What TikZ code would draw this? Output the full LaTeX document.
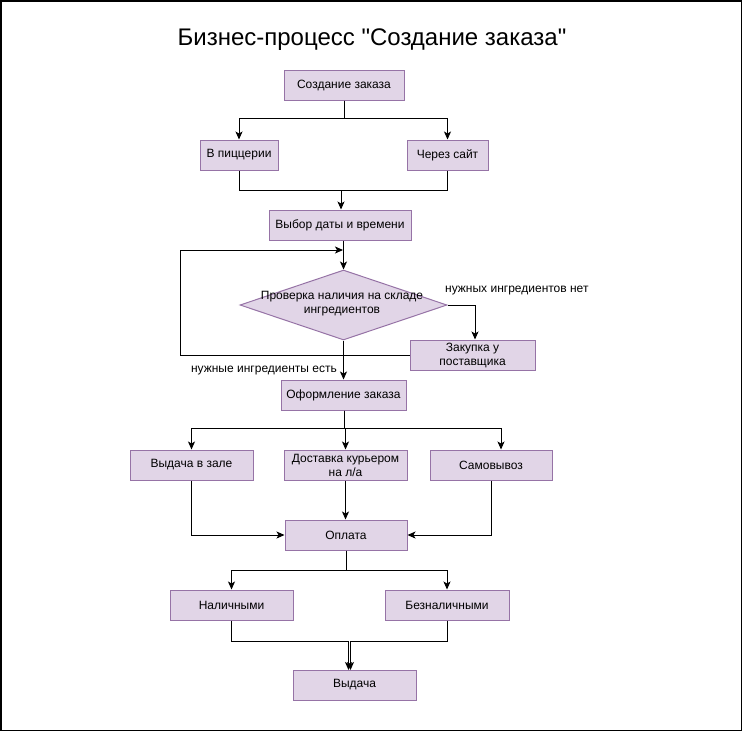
\documentclass[tikz,border=0pt]{standalone}
\usepackage{fontspec}
\setmainfont{Liberation Sans}
\newfontfamily\titlefont{Liberation Sans}
\usetikzlibrary{shapes.geometric,arrows.meta}
\definecolor{boxfill}{HTML}{E1D5E7}
\definecolor{boxline}{HTML}{9673A6}
\tikzset{
  box/.style={draw=boxline,fill=boxfill,line width=1pt,inner sep=0pt,
    minimum height=30pt,align=center,font=\fontsize{12}{14}\selectfont},
  dia/.style={draw=boxline,fill=boxfill,line width=1pt,diamond,inner sep=0pt,
    minimum width=207pt,minimum height=70pt},
  txt/.style={inner sep=0pt,align=center,font=\fontsize{12}{14}\selectfont},
  conn/.style={line width=1pt,-{Stealth[length=8pt,width=7pt,inset=2pt]}},
  plain/.style={line width=1pt}
}
\begin{document}
\begin{tikzpicture}[x=1pt,y=-1pt]
\useasboundingbox (0,0) rectangle (743,732);
\draw[line width=1.5pt] (0.75,0.75) rectangle (741.5,730.5);
\node[inner sep=0pt,font=\titlefont\fontsize{24}{28}\selectfont] (title) at (372,40) {Бизнес-процесс "Создание заказа"};

\node[box,minimum width=120pt] (create) at (344,85) {Создание заказа};
\node[box,minimum width=78pt] (pizz) at (239,155) {В пиццерии};
\node[box,minimum width=81pt] (site) at (447.5,155) {Через сайт};
\node[box,minimum width=142pt] (date) at (340,225) {Выбор даты и времени};
\node[dia] (check) at (343.5,305) {};
\node[txt] (checktxt) at (342,304) {Проверка наличия на складе\\ингредиентов};
\node[box,minimum width=125pt] (buy) at (472.5,355) {Закупка у\\поставщика};
\node[box,minimum width=125pt] (form) at (343.5,395) {Оформление заказа};
\node[box,minimum width=123pt] (hall) at (191.5,465) {Выдача в зале};
\node[box,minimum width=123pt] (deliv) at (345.5,465) {Доставка курьером\\на л/а};
\node[box,minimum width=122pt] (self) at (491,465) {Самовывоз};
\node[box,minimum width=122pt] (pay) at (346,535) {Оплата};
\node[box,minimum width=123pt] (cash) at (231.5,605) {Наличными};
\node[box,minimum width=124pt] (card) at (447,605) {Безналичными};
\node[box,minimum width=123pt] (give) at (354.5,685) {Выдача};

% create -> branches
\draw[conn] (create.south) -- (create.south |- 0,118) -| (pizz.north);
\draw[conn] (create.south) -- (create.south |- 0,118) -| (site.north);
% branches -> date
\coordinate (j1) at (341,190);
\draw[plain] (pizz.south) |- (j1);
\draw[conn] (site.south) |- (j1) -- (j1 |- date.north);
% date -> check
\draw[conn] (date.south -| check.north) -- (check.north);
% check -> buy
\draw[conn] (check.east) -| (buy.north -| 475,0);
\node[txt,anchor=west] (nolbl) at (445,291) {нужных ингредиентов нет};
% loop back
\coordinate (loopend) at (343,250);
\draw[conn] (buy.west) -- (180,355) |- (loopend);
% check -> form
\draw[conn] (check.south) -- (form.north -| check.south);
\node[txt,anchor=east] (yeslbl) at (337,371) {нужные ингредиенты есть};
% form -> three
\draw[conn] (form.south -| 344,0) -- (344,428) -| (hall.north);
\draw[conn] (form.south -| 344,0) -- (344,428) -| (deliv.north);
\draw[conn] (form.south -| 344,0) -- (344,428) -| (self.north -| 501,0);
% three -> pay
\draw[conn] (hall.south) |- (pay.west);
\draw[conn] (deliv.south) -- (pay.north -| deliv.south);
\draw[conn] (self.south) |- (pay.east);
% pay -> payment types
\draw[conn] (pay.south) -- (346,570) -| (cash.north);
\draw[conn] (pay.south) -- (346,570) -| (card.north);
% payment types -> give
\draw[conn] (cash.south) |- (348.5,641) -- (348.5,670);
\draw[conn] (card.south) |- (350.5,641) -- (350.5,670);
\end{tikzpicture}
\end{document}
